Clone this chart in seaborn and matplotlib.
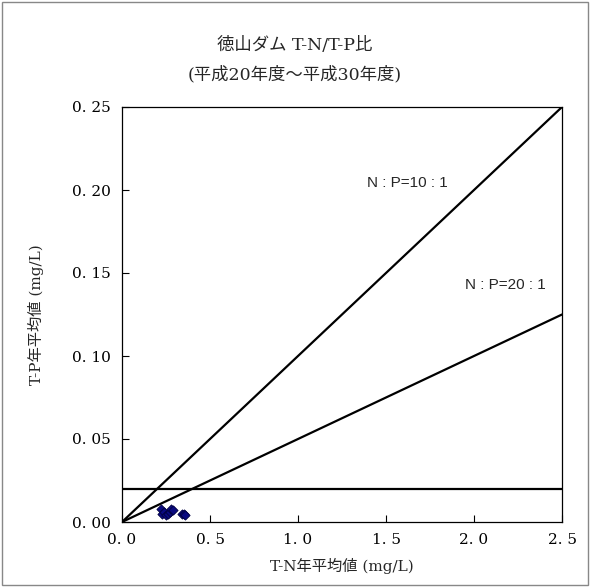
import matplotlib
matplotlib.use("Agg")
import matplotlib.pyplot as plt
import seaborn as sns
import pandas as pd
import numpy as np

sns.set_theme(style="white")
plt.rcParams['font.family'] = ['DejaVu Serif', 'Noto Sans CJK JP']

tn = [0.22, 0.23, 0.24, 0.25, 0.26, 0.27, 0.28, 0.29, 0.34, 0.35, 0.36]
tp = [0.008, 0.005, 0.006, 0.004, 0.005, 0.006, 0.008, 0.007, 0.005, 0.005, 0.004]
ratio_n = [10, 20]
ratio_labels = ["N : P=10 : 1", "N : P=20 : 1"]
limit_tp = 0.02
xticks = [0.0, 0.5, 1.0, 1.5, 2.0, 2.5]
yticks = [0.00, 0.05, 0.10, 0.15, 0.20, 0.25]

df = pd.DataFrame({"TN": tn, "TP": tp})

fig = plt.figure(figsize=(5.90, 5.87), dpi=100)
ax = fig.add_axes([122/590, 1-522/587, 440/590, 415/587])

xs = np.array([0.0, 2.5])
for n in ratio_n:
    ax.plot(xs, xs / n, color='black', lw=1.6)
ax.axhline(limit_tp, color='black', lw=1.6)

sns.scatterplot(data=df, x="TN", y="TP", ax=ax, marker='D', s=22,
                color='#0a0a80', edgecolor='#000040', linewidth=0.6, zorder=5)

ax.text(1.62, 0.204, ratio_labels[0], family=['Liberation Sans', 'Noto Sans CJK JP'],
        fontsize=11, ha='center', va='center')
ax.text(2.18, 0.143, ratio_labels[1], family=['Liberation Sans', 'Noto Sans CJK JP'],
        fontsize=11, ha='center', va='center')

ax.set_xlim(0, 2.5)
ax.set_ylim(0, 0.25)
ax.set_xticks(xticks)
ax.set_yticks(yticks)
ax.set_xticklabels([f"{v:.1f}".replace('.', '. ') for v in xticks], fontsize=11)
ax.set_yticklabels([f"{v:.2f}".replace('.', '. ') for v in yticks], fontsize=11)
ax.tick_params(direction='in', length=5, width=0.8, colors='black',
               left=True, bottom=True, pad=8)
for s in ax.spines.values():
    s.set_color('black')
    s.set_linewidth(0.9)

ax.set_xlabel("T-N年平均値 (mg/L)", fontsize=11, labelpad=8)
ax.set_ylabel("T-P年平均値 (mg/L)", fontsize=11, labelpad=20)
fig.text(0.5, 1-45/587, "徳山ダム T-N/T-P比", ha='center', va='center', fontsize=12.5)
fig.text(0.5, 1-75/587, "(平成20年度～平成30年度)", ha='center', va='center', fontsize=12.5)

border = plt.Rectangle((0.003, 0.003), 0.994, 0.994, transform=fig.transFigure,
                       fill=False, edgecolor='#888888', lw=1.0)
fig.patches.append(border)

fig.savefig("out.png", dpi=100)
